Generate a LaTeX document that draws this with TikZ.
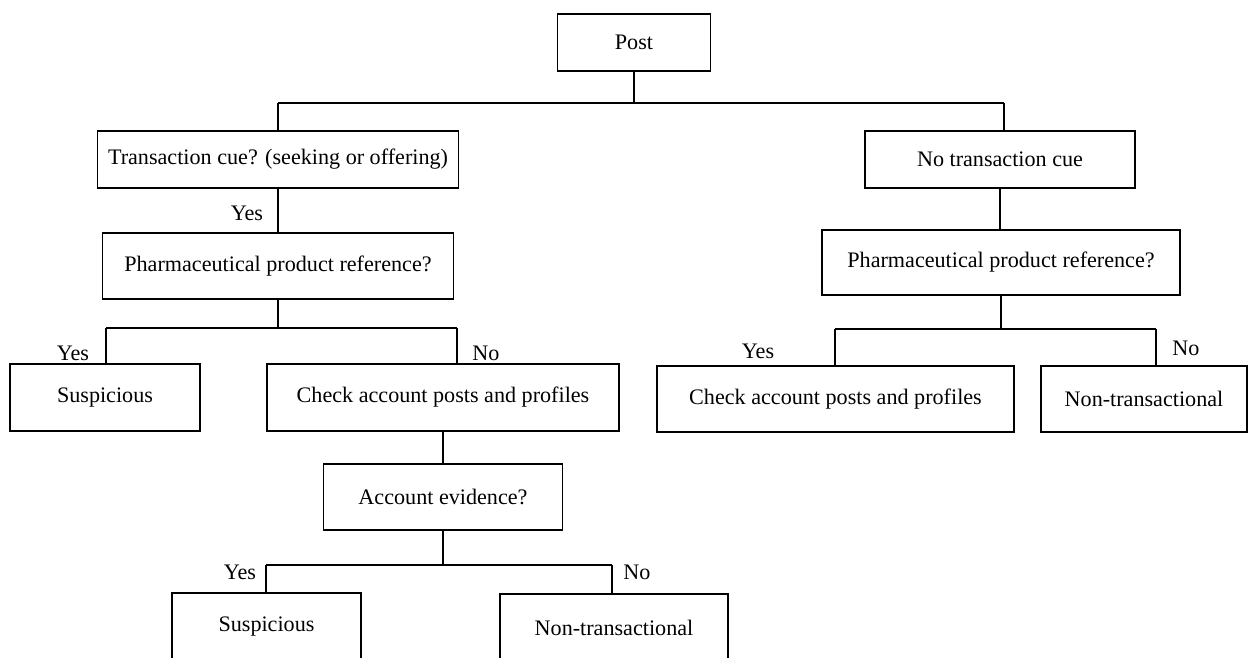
\documentclass[tikz,border=0pt]{standalone}
\usepackage{fontspec}
\setmainfont{Liberation Serif}

\begin{document}
\begin{tikzpicture}[x=0.02cm, y=-0.02cm, line width=1pt,
    box/.style={draw, inner sep=0pt, font=\fontsize{12.6}{15}\selectfont},
    lbl/.style={inner sep=0pt, font=\fontsize{12.6}{15}\selectfont}]
    \useasboundingbox (0,0) rectangle (1250,657);

    % boxes: name / x / y / width / height / text
    \foreach \name/\x/\y/\w/\h/\t in {
        post/634/42.5/3.06/1.14/Post,
        trans/278/159.5/7.22/1.14/Transaction cue? (seeking or offering),
        nocue/1000/159.5/5.40/1.14/No transaction cue,
        pharmL/278/266/7.02/1.32/Pharmaceutical product reference?,
        pharmR/1001/262.5/7.16/1.30/Pharmaceutical product reference?,
        suspL/105/397.5/3.80/1.34/Suspicious,
        checkL/443/397.5/7.04/1.34/Check account posts and profiles,
        acct/443/497/4.78/1.32/Account evidence?,
        suspA/266.5/626.5/3.78/1.34/Suspicious,
        nontrA/614/627.5/4.56/1.34/Non-transactional,
        checkR/835.5/399/7.14/1.32/Check account posts and profiles,
        nontrR/1144/399/4.12/1.32/Non-transactional} {
        \node[box, minimum width=\w cm, minimum height=\h cm] (\name) at (\x, \y) {\t};
    }

    % yes / no labels
    \foreach \name/\x/\y/\t in {
        yesT/247/213/Yes, yesL/73/353/Yes, noL/486/353/No,
        yesA/240/572/Yes, noA/637/572/No,
        yesR/758/351/Yes, noR/1186/348/No} {
        \node[lbl] (\name) at (\x, \y) {\t};
    }

    % bar ends
    \coordinate (topl) at (278, 103);
    \coordinate (topr) at (1004, 103);
    \coordinate (pharmLl) at (106, 328);
    \coordinate (pharmLr) at (457, 328);
    \coordinate (acctl) at (266, 565);
    \coordinate (acctr) at (612, 565);
    \coordinate (pharmRl) at (835, 329);
    \coordinate (pharmRr) at (1156, 329);

    % Post
    \draw (post.south) -- (post.south |- topl);
    \draw (topl) -- (topr);
    \draw (topl) -- (topl |- trans.north);
    \draw (topr) -- (topr |- nocue.north);

    % left branch
    \draw (trans.south) -- (pharmL.north);
    \draw (pharmL.south) -- (pharmL.south |- pharmLl);
    \draw (pharmLl) -- (pharmLr);
    \draw (pharmLl) -- (pharmLl |- suspL.north);
    \draw (pharmLr) -- (pharmLr |- checkL.north);
    \draw (checkL.south) -- (acct.north);
    \draw (acct.south) -- (acct.south |- acctl);
    \draw (acctl) -- (acctr);
    \draw (acctl) -- (acctl |- suspA.north);
    \draw (acctr) -- (acctr |- nontrA.north);

    % right branch
    \draw (nocue.south) -- (nocue.south |- pharmR.north);
    \draw (pharmR.south) -- (pharmR.south |- pharmRl);
    \draw (pharmRl) -- (pharmRr);
    \draw (pharmRl) -- (pharmRl |- checkR.north);
    \draw (pharmRr) -- (pharmRr |- nontrR.north);
\end{tikzpicture}
\end{document}
